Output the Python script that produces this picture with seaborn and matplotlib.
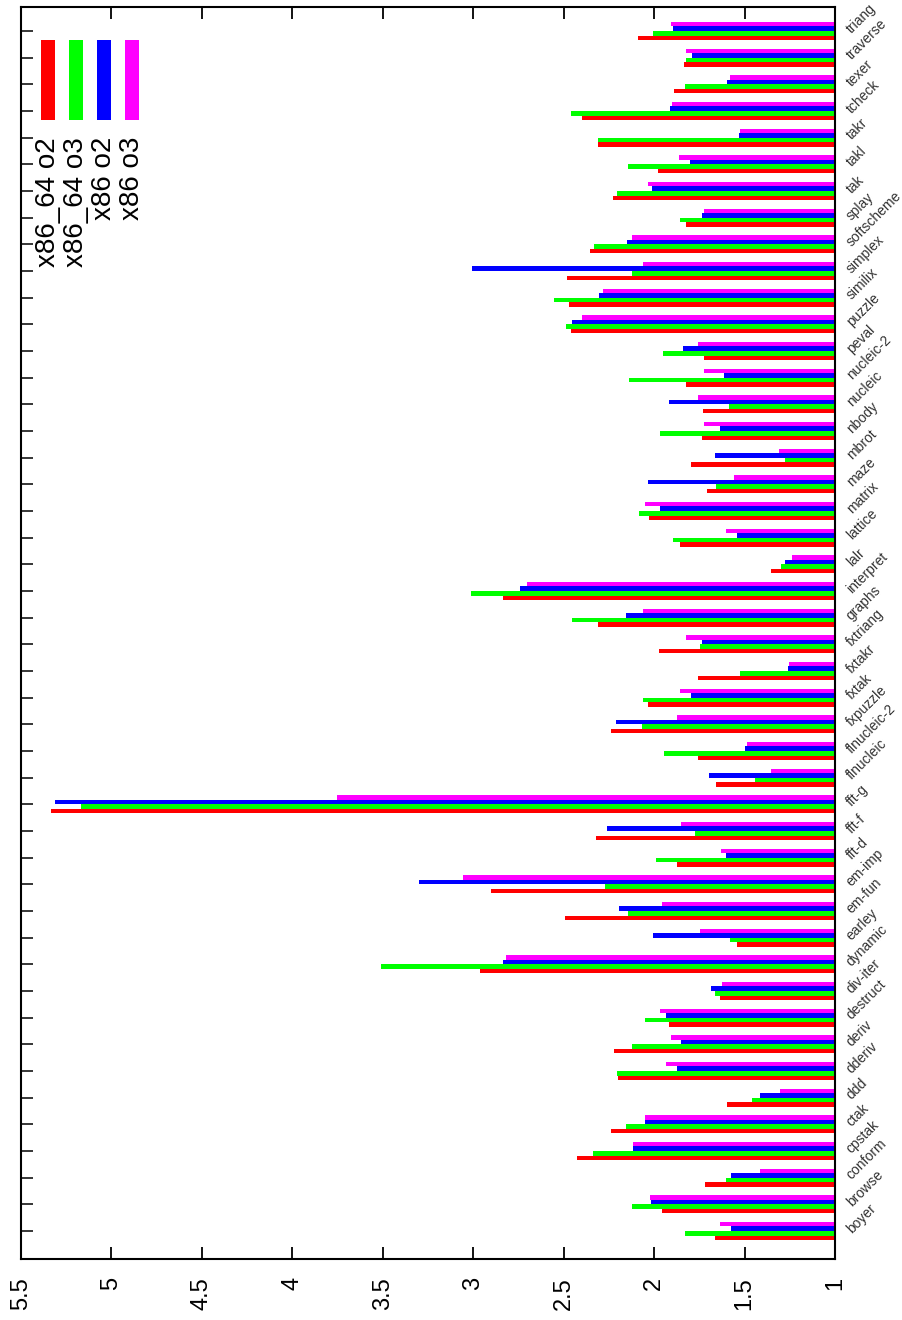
import numpy as np
import pandas as pd
import matplotlib
matplotlib.use("Agg")
import matplotlib.pyplot as plt
from matplotlib.patches import Rectangle
import seaborn as sns

# Benchmark speedups per program, one list per build
benchmarks = ["boyer", "browse", "conform", "cpstak", "ctak", "ddd", "dderiv", "deriv",
              "destruct", "div-iter", "dynamic", "earley", "em-fun", "em-imp", "fft-d",
              "fft-f", "fft-g", "flnucleic", "flnucleic-2", "fxpuzzle", "fxtak", "fxtakr",
              "fxtriang", "graphs", "interpret", "lalr", "lattice", "matrix", "maze",
              "mbrot", "nbody", "nucleic", "nucleic-2", "peval", "puzzle", "similix",
              "simplex", "softscheme", "splay", "tak", "takl", "takr", "tcheck", "texer",
              "traverse", "triang"]

x86_64_o2 = [1.662, 1.954, 1.717, 2.424, 2.241, 1.595, 2.198, 2.224, 1.920, 1.633,
             2.964, 1.540, 2.490, 2.903, 1.871, 2.319, 5.334, 1.656, 1.755, 2.236,
             2.036, 1.760, 1.971, 2.308, 2.833, 1.352, 1.859, 2.027, 1.705, 1.795,
             1.734, 1.728, 1.821, 1.722, 2.462, 2.473, 2.479, 2.352, 1.821, 2.230,
             1.981, 2.308, 2.401, 1.888, 1.833, 2.091]

x86_64_o3 = [1.827, 2.125, 1.601, 2.340, 2.158, 1.458, 2.203, 2.120, 2.053, 1.662,
             3.511, 1.578, 2.143, 2.274, 1.987, 1.772, 5.170, 1.441, 1.943, 2.065,
             2.059, 1.523, 1.749, 2.456, 3.013, 1.297, 1.894, 2.082, 1.656, 1.276,
             1.966, 1.584, 2.137, 1.949, 2.485, 2.555, 2.125, 2.335, 1.859, 2.203,
             2.143, 2.308, 2.462, 1.827, 1.821, 2.004]

x86_o2 = [1.574, 2.015, 1.574, 2.114, 2.048, 1.413, 1.876, 1.850, 1.937, 1.684,
          2.837, 2.004, 2.192, 3.300, 1.601, 2.259, 5.312, 1.694, 1.496, 2.213,
          1.795, 1.259, 1.734, 2.158, 2.743, 1.276, 1.540, 1.966, 2.032, 1.662,
          1.633, 1.916, 1.612, 1.838, 2.456, 2.302, 3.008, 2.152, 1.734, 2.010,
          1.804, 1.529, 1.911, 1.595, 1.789, 1.894]

x86_o3 = [1.633, 2.021, 1.413, 2.114, 2.048, 1.302, 1.937, 1.905, 1.966, 1.624,
          2.821, 1.749, 1.954, 3.059, 1.629, 1.850, 3.753, 1.352, 1.485, 1.876,
          1.856, 1.253, 1.821, 2.059, 2.700, 1.236, 1.601, 2.048, 1.557, 1.308,
          1.722, 1.755, 1.722, 1.760, 2.401, 2.285, 2.059, 2.120, 1.722, 2.032,
          1.865, 1.523, 1.899, 1.578, 1.821, 1.905]

series_names = ["x86_64 o2", "x86_64 o3", "x86 o2", "x86 o3"]
series_values = [x86_64_o2, x86_64_o3, x86_o2, x86_o3]
series_colors = ["#ff0000", "#00ff00", "#0000ff", "#ff00ff"]

value_ticks = [1, 1.5, 2, 2.5, 3, 3.5, 4, 4.5, 5, 5.5]
value_tick_labels = ["1", "1.5", "2", "2.5", "3", "3.5", "4", "4.5", "5", "5.5"]

df = pd.DataFrame({
    "benchmark": np.tile(benchmarks, len(series_names)),
    "build": np.repeat(series_names, len(benchmarks)),
    "speedup": np.concatenate(series_values),
})

sns.set_style("white")
plt.rcParams["font.family"] = ["Liberation Sans", "DejaVu Sans"]

W, H = 902, 1320
fig = plt.figure(figsize=(W / 100, H / 100), dpi=100)
ax_l, ax_r, ax_t, ax_b = 21, 835, 7, 1259
ax = fig.add_axes([ax_l / W, 1 - ax_b / H, (ax_r - ax_l) / W, (ax_b - ax_t) / H])

sns.barplot(data=df, y="benchmark", x="speedup", hue="build", order=benchmarks,
            hue_order=series_names, palette=dict(zip(series_names, series_colors)),
            orient="h", width=0.68, saturation=1, linewidth=0, errorbar=None,
            legend=False, ax=ax)

ax.set_xlim(5.5, 1)
ax.set_ylim(-1.05, len(benchmarks) - 0.1)
ax.set_xlabel("")
ax.set_ylabel("")

for s in ax.spines.values():
    s.set_visible(True)
    s.set_linewidth(1.5)
    s.set_color("black")
    s.set_zorder(5)

ax.set_xticks(value_ticks)
ax.set_xticklabels(value_tick_labels, rotation=90, fontsize=17, va="top", ha="center")
ax.tick_params(axis="x", direction="in", top=True, bottom=True, length=8.5,
               width=1.3, pad=13, colors="black")

ax.set_yticks(range(len(benchmarks)))
ax.set_yticklabels(benchmarks, rotation=45, fontsize=10, color="#333333",
                   ha="left", va="center", rotation_mode="anchor")
ax.tick_params(axis="y", direction="in", left=True, right=False, labelleft=False,
               labelright=True, length=8.5, width=1.3, pad=10)

# legend: vertical colour swatches with rotated captions
swatch_x = [48, 76, 104, 132]
for cx, name, col in zip(swatch_x, series_names, series_colors):
    fx = (cx - ax_l) / (ax_r - ax_l)
    sw = 14 / (ax_r - ax_l)
    y_top = 1 - (40 - ax_t) / (ax_b - ax_t)
    y_bot = 1 - (120 - ax_t) / (ax_b - ax_t)
    ax.add_patch(Rectangle((fx - sw / 2, y_bot), sw, y_top - y_bot,
                           transform=ax.transAxes, color=col, lw=0, zorder=6))
    ax.text(fx, 1 - (137 - ax_t) / (ax_b - ax_t), name, transform=ax.transAxes,
            rotation=90, ha="center", va="top", fontsize=20, color="black", zorder=6)

fig.savefig("out.png", dpi=100, facecolor="white")
